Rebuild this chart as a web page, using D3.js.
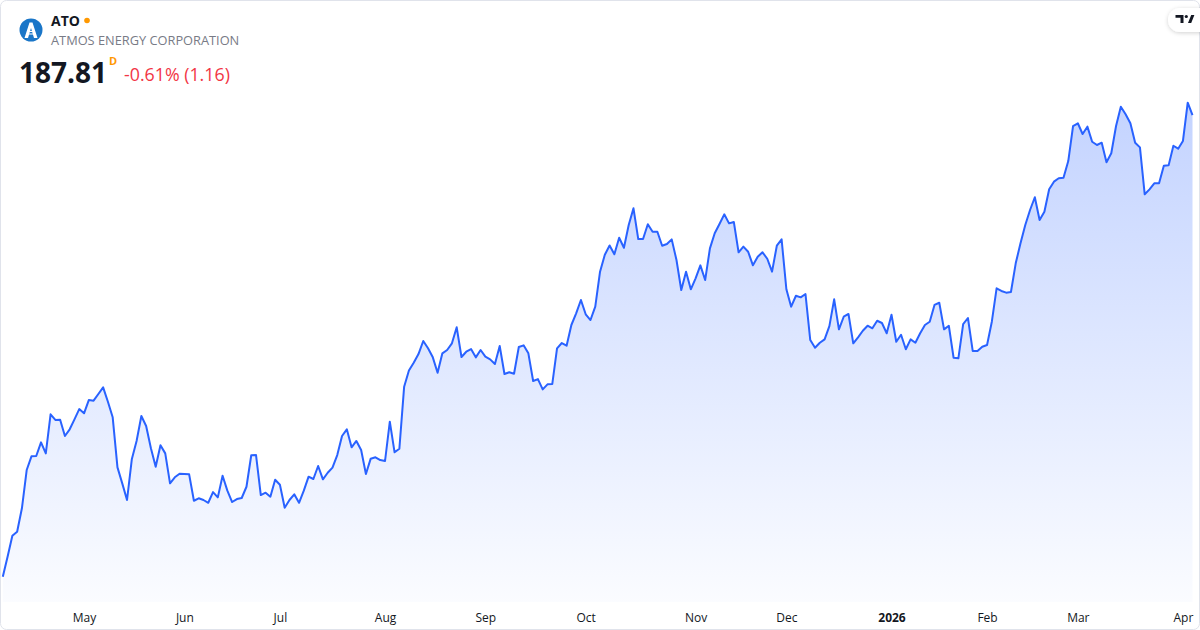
<!DOCTYPE html>
<html>
<head>
<meta charset="utf-8">
<script src="https://cdn.jsdelivr.net/npm/d3@7"></script>
<style>
  html, body { margin: 0; padding: 0; background: #fff; }
  svg { display: block; font-family: "Open Sans", sans-serif; }
</style>
</head>
<body>
<div id="chart"></div>
<script>
// daily closes, ATO, from 2025-04-07
const closes = [
  144.25,146.14,148.12,148.50,150.71,154.32,155.61,155.64,156.93,155.89,
  159.57,159.04,159.06,157.53,158.16,159.10,160.07,159.67,160.92,160.86,
  161.49,162.12,160.76,159.29,154.57,153.06,151.49,155.33,157.06,159.41,
  158.47,156.37,154.63,156.65,155.89,153.06,153.63,153.97,153.94,153.91,
  151.42,151.65,151.49,151.23,152.24,151.74,153.78,152.37,151.30,151.58,
  151.68,152.74,155.71,155.73,151.96,152.18,151.80,153.40,152.93,150.76,
  151.49,152.03,151.23,152.37,153.69,153.47,154.70,153.44,154.06,154.54,
  155.73,157.53,158.16,156.46,157.06,156.21,153.94,155.39,155.52,155.26,
  155.17,158.88,155.99,156.33,162.18,163.71,164.44,165.26,166.49,165.80,
  164.95,163.50,165.33,165.64,166.27,167.78,164.98,165.48,165.73,164.95,
  165.64,165.01,164.76,164.32,166.02,163.38,163.54,163.40,165.92,166.08,
  165.33,162.72,162.90,161.93,162.40,162.43,165.80,166.30,166.05,168.00,
  169.10,170.36,169.01,168.47,169.73,173.03,174.63,175.50,174.67,176.23,
  175.29,177.43,179.01,176.11,176.11,177.50,176.80,176.80,175.48,175.64,
  176.08,174.13,171.30,173.03,171.37,172.40,173.63,172.24,175.23,176.65,
  177.53,178.44,177.59,177.72,174.86,175.39,174.91,173.63,174.44,174.86,
  174.25,173.03,175.48,176.08,171.37,169.73,170.76,170.61,170.92,166.58,
  165.86,166.33,166.65,167.90,170.42,167.59,168.78,169.04,166.27,166.84,
  167.46,167.93,167.69,168.40,168.19,167.22,168.97,166.42,167.08,165.71,
  166.65,166.33,167.22,168.00,168.31,169.89,170.10,167.59,167.93,164.91,
  164.86,168.09,168.66,165.55,165.55,165.95,166.11,168.31,171.46,171.21,
  171.05,171.11,173.82,175.71,177.43,178.85,180.05,177.90,178.69,180.80,
  181.52,181.84,181.89,183.47,186.77,187.03,186.02,186.71,185.29,184.98,
  185.20,183.35,184.20,186.77,188.59,187.88,187.03,185.20,184.76,180.33,
  180.80,181.37,181.37,183.03,183.06,184.91,184.63,185.36,188.97,187.81
];
const startDate = "2025-04-07";
const holidays = ["2025-04-18","2025-05-26","2025-06-19","2025-07-04","2025-09-01",
  "2025-11-27","2025-12-25","2026-01-01","2026-01-19","2026-02-16"];

const symbol = "ATO";
const companyName = "ATMOS ENERGY CORPORATION";
const lastPrice = "187.81";
const changeText = "-0.61% (1.16)";
const yDomain = [144, 190];

const width = 1200, height = 630;

// trading days
const fmtDay = d3.timeFormat("%Y-%m-%d");
const dates = [];
let cur = d3.timeParse("%Y-%m-%d")(startDate);
while (dates.length < closes.length) {
  const wd = cur.getDay();
  if (wd !== 0 && wd !== 6 && holidays.indexOf(fmtDay(cur)) < 0) dates.push(new Date(cur));
  cur = d3.timeDay.offset(cur, 1);
}
const data = closes.map((c, i) => ({i: i, date: dates[i], close: c}));

// first trading day of each month
const monthTicks = data.filter((d, i) => i > 0 && d.date.getMonth() !== data[i - 1].date.getMonth()).map(d => d.i);

const svg = d3.select("#chart").append("svg")
  .attr("width", width)
  .attr("height", height);

const defs = svg.append("defs");
const grad = defs.append("linearGradient")
  .attr("id", "fillGrad")
  .attr("gradientUnits", "userSpaceOnUse")
  .attr("x1", 0).attr("x2", 0).attr("y1", 100).attr("y2", 602);
grad.append("stop").attr("offset", "0%").attr("stop-color", "#2962ff").attr("stop-opacity", 0.28);
grad.append("stop").attr("offset", "100%").attr("stop-color", "#2962ff").attr("stop-opacity", 0.02);

const shadow = defs.append("filter").attr("id", "shadow")
  .attr("x", "-50%").attr("y", "-50%").attr("width", "200%").attr("height", "200%");
shadow.append("feDropShadow").attr("dx", 0).attr("dy", 1).attr("stdDeviation", 2)
  .attr("flood-color", "#000").attr("flood-opacity", 0.18);

// frame
svg.append("rect")
  .attr("x", 0.5).attr("y", 0.5)
  .attr("width", width - 1).attr("height", height - 1)
  .attr("rx", 6)
  .attr("fill", "#fff")
  .attr("stroke", "#e0e3eb");

var x = d3.scaleLinear()
  .domain([0, closes.length - 1])
  .range([2.8, 1192.5]);

var y = d3.scaleLinear()
  .domain(yDomain)
  .range([579.4, 91.8]);

const area = d3.area()
  .x(d => x(d.i))
  .y0(602)
  .y1(d => y(d.close));

const line = d3.line()
  .x(d => x(d.i))
  .y(d => y(d.close));

svg.append("path")
  .datum(data)
  .attr("d", area)
  .attr("fill", "url(#fillGrad)");

svg.append("path")
  .datum(data)
  .attr("d", line)
  .attr("fill", "none")
  .attr("stroke", "#2962ff")
  .attr("stroke-width", 2)
  .attr("stroke-linejoin", "round");

// x axis
const axis = svg.append("g")
  .attr("transform", "translate(0,606)")
  .call(d3.axisBottom(x)
    .tickValues(monthTicks)
    .tickSize(0)
    .tickPadding(0)
    .tickFormat(i => data[i].date.getMonth() === 0 ? d3.timeFormat("%Y")(data[i].date) : d3.timeFormat("%b")(data[i].date)));
axis.select(".domain").remove();
axis.selectAll("text")
  .attr("dy", "0")
  .attr("y", 16)
  .attr("fill", "#131722")
  .style("font-family", "'Open Sans', sans-serif")
  .style("font-size", "12px")
  .style("font-weight", i => data[i].date.getMonth() === 0 ? "700" : "400");

// header
const head = svg.append("g");
head.append("circle").attr("cx", 31).attr("cy", 30).attr("r", 11.5).attr("fill", "#1a76c8");
head.append("path")
  .attr("d", "M24.5,38 L29.5,22.5 L32.5,22.5 L37.5,38 L34,38 L31,28 L28,38 Z")
  .attr("fill", "#fff");
head.append("path")
  .attr("d", "M27,31.5 H35 M26.5,34 H35.5")
  .attr("stroke", "#fff").attr("stroke-width", 1.2);

head.append("text")
  .attr("x", 51).attr("y", 26)
  .attr("fill", "#131722")
  .style("font-size", "14px").style("font-weight", 700)
  .text(symbol);
head.append("circle").attr("cx", 87).attr("cy", 20.5).attr("r", 2.8).attr("fill", "#ff9800");

head.append("text")
  .attr("x", 51).attr("y", 45)
  .attr("fill", "#787b86")
  .style("font-size", "12.8px")
  .text(companyName);

head.append("text")
  .attr("x", 19).attr("y", 83)
  .attr("fill", "#131722")
  .style("font-size", "28px").style("font-weight", 700)
  .text(lastPrice);
head.append("text")
  .attr("x", 109).attr("y", 65)
  .attr("fill", "#ff9800")
  .style("font-size", "11px").style("font-weight", 700)
  .text("D");
head.append("text")
  .attr("x", 124).attr("y", 81)
  .attr("fill", "#f23645")
  .style("font-size", "17.8px")
  .text(changeText);

// TradingView badge
const badge = svg.append("g");
badge.append("rect")
  .attr("x", 1168).attr("y", 8).attr("width", 44).attr("height", 24).attr("rx", 12)
  .attr("fill", "#fff").attr("filter", "url(#shadow)");
badge.append("path")
  .attr("d", "M1175.5,15 H1183.5 V23 H1180.5 V17.8 H1175.5 Z M1188,23 L1191.2,15 H1194.4 L1191.2,23 Z")
  .attr("fill", "#131722");
badge.append("circle").attr("cx", 1186.3).attr("cy", 16.5).attr("r", 1.6).attr("fill", "#131722");
</script>
</body>
</html>
